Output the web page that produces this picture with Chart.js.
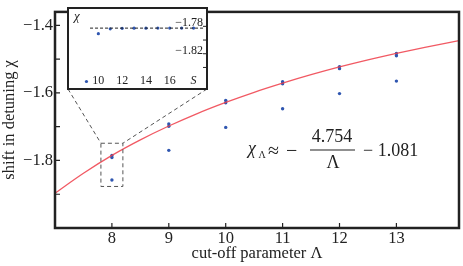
<!DOCTYPE html>
<html><head><meta charset="utf-8">
<script src="https://cdn.jsdelivr.net/npm/chart.js@4.4.0/dist/chart.umd.min.js"></script>
<style>
html,body{margin:0;padding:0;background:#fff;}
#wrap{position:relative;width:463px;height:266px;overflow:hidden;}
#main{position:absolute;left:0;top:0;}
#inset{position:absolute;left:67px;top:7px;background:#fff;}
</style></head><body>
<div id="wrap"><canvas id="main" width="463" height="266"></canvas><canvas id="inset" width="141" height="83"></canvas></div>
<script>
// ---- data ----
const cutoffs      = [8, 9, 10, 11, 12, 13];
const chiSmallS    = [-1.858, -1.770, -1.702, -1.647, -1.602, -1.565];
const chiNextS     = [-1.791, -1.699, -1.629, -1.573, -1.528, -1.490];
const chiConverged = [-1.785, -1.692, -1.622, -1.567, -1.522, -1.483];
const fitLambda = [7, 7.5, 8, 8.5, 9, 9.5, 10, 10.5, 11, 11.5, 12, 12.5, 13, 13.5, 14.1];
const fitChi    = [-1.897, -1.838, -1.785, -1.739, -1.698, -1.661, -1.628, -1.598, -1.571, -1.546, -1.523, -1.502, -1.483, -1.465, -1.445];
const xTicks = [8, 9, 10, 11, 12, 13];
const yTicks = [-1.4, -1.6, -1.8];
const yMinorTicks = [-1.5, -1.7, -1.9];
const insetS   = [9, 10, 11, 12, 13, 14, 15, 16, 17, 18];
const insetChi = [-1.8605, -1.7907, -1.7836, -1.7829, -1.7827, -1.7827, -1.7826, -1.7826, -1.7826, -1.7826];
const insetLimitS = [9.3, 18.9];
const insetLimitChi = [-1.7826, -1.7826];
const insetXTicks = [10, 12, 14, 16, 18];
const insetXLabels = ['10', '12', '14', '16', 'S'];
const insetYTicks = [-1.78, -1.82];
const insetYMinor = [-1.80, -1.84];
const formulaText = { lhs: 'χ', sub: 'Λ', approx: '≈', minus: '−', num: '4.754', den: 'Λ', tail: '− 1.081' };

const SERIF = '"Liberation Serif", "DejaVu Serif", serif';
const BLUE = '#2f56b0';
const INK = '#222';
const pts = (xs, ys) => xs.map((x, i) => ({x, y: ys[i]}));
const fmtMinus = v => (v < 0 ? '−' : '') + Math.abs(v).toFixed(1);

// zoom box around Λ = 8 (data coords) and inset placement (pixels)
const zoomBox = {x0: 7.807, x1: 8.193, y0: -1.749, y1: -1.877};
const insetBox = {left: 67, top: 7, w: 141, h: 83};

const mainDecor = {
  id: 'mainDecor',
  afterDraw(chart) {
    const {ctx, chartArea: a, scales: {x, y}} = chart;
    ctx.save();
    // frame
    ctx.strokeStyle = INK; ctx.lineWidth = 2.5;
    ctx.strokeRect(a.left, a.top, a.right - a.left, a.bottom - a.top);
    // ticks inside
    ctx.lineWidth = 1.2;
    ctx.beginPath();
    xTicks.forEach(v => { const px = x.getPixelForValue(v); ctx.moveTo(px, a.bottom); ctx.lineTo(px, a.bottom - 5); });
    yTicks.concat(yMinorTicks).forEach(v => { const py = y.getPixelForValue(v); ctx.moveTo(a.left, py); ctx.lineTo(a.left + 5, py); });
    ctx.stroke();
    // dashed zoom box + connectors
    ctx.strokeStyle = '#555'; ctx.lineWidth = 1; ctx.setLineDash([4, 3]);
    const bx0 = x.getPixelForValue(zoomBox.x0), bx1 = x.getPixelForValue(zoomBox.x1);
    const by0 = y.getPixelForValue(zoomBox.y0), by1 = y.getPixelForValue(zoomBox.y1);
    ctx.strokeRect(bx0, by0, bx1 - bx0, by1 - by0);
    ctx.beginPath();
    ctx.moveTo(insetBox.left + 1, insetBox.top + insetBox.h - 1); ctx.lineTo(bx0, by0);
    ctx.moveTo(insetBox.left + insetBox.w - 1, insetBox.top + insetBox.h - 1); ctx.lineTo(bx1, by0);
    ctx.stroke();
    ctx.setLineDash([]);
    // formula
    ctx.fillStyle = INK;
    ctx.textBaseline = 'alphabetic';
    ctx.textAlign = 'left';
    ctx.font = 'italic 18px ' + SERIF;
    ctx.fillText(formulaText.lhs, 248, 154);
    ctx.font = '10px ' + SERIF;
    ctx.fillText(formulaText.sub, 258.5, 158);
    ctx.font = '20px ' + SERIF;
    ctx.fillText(formulaText.approx, 268, 157);
    ctx.fillText(formulaText.minus, 286, 157);
    ctx.font = '18px ' + SERIF;
    ctx.textAlign = 'center';
    ctx.fillText(formulaText.num, 332, 142);
    ctx.fillText(formulaText.den, 333, 168);
    ctx.fillRect(310, 149.5, 45, 1);
    ctx.textAlign = 'left';
    ctx.fillText(formulaText.tail, 363, 156);
    ctx.restore();
  }
};

new Chart(document.getElementById('main'), {
  type: 'scatter',
  data: {
    datasets: [
      {data: pts(fitLambda, fitChi), showLine: true, borderColor: 'rgba(238,60,72,0.85)', borderWidth: 1.3,
       pointRadius: 0, cubicInterpolationMode: 'monotone', fill: false},
      {data: pts(cutoffs, chiConverged), backgroundColor: BLUE, borderWidth: 0, pointRadius: 1.7},
      {data: pts(cutoffs, chiNextS), backgroundColor: BLUE, borderWidth: 0, pointRadius: 1.7},
      {data: pts(cutoffs, chiSmallS), backgroundColor: BLUE, borderWidth: 0, pointRadius: 1.7}
    ]
  },
  options: {
    responsive: false, animation: false, devicePixelRatio: 1,
    layout: {padding: {top: 3, right: 2, left: 0, bottom: 0}},
    plugins: {legend: {display: false}, tooltip: {enabled: false}},
    scales: {
      x: {
        type: 'linear', min: 7, max: 14.1,
        afterBuildTicks: s => { s.ticks = xTicks.map(v => ({value: v})); },
        afterFit: s => { s.height = 38; },
        grid: {display: false, drawTicks: false}, border: {display: false},
        ticks: {padding: 2, color: INK, maxRotation: 0, font: {family: SERIF, size: 16.5, lineHeight: 1},
                callback: v => String(v)},
        title: {display: true, text: 'cut-off parameter Λ', color: INK, padding: {top: 0, bottom: 4},
                font: {family: SERIF, size: 16.5, lineHeight: 1}}
      },
      y: {
        type: 'linear', min: -2.0, max: -1.36,
        afterBuildTicks: s => { s.ticks = yTicks.map(v => ({value: v})); },
        afterFit: s => { s.width = 55; },
        grid: {display: false, drawTicks: false}, border: {display: false},
        ticks: {padding: 2, color: INK, font: {family: SERIF, size: 16.5}, callback: v => fmtMinus(v)},
        title: {display: true, text: 'shift in detuning χ', color: INK, padding: {top: 1.5, bottom: 0},
                font: {family: SERIF, size: 16.5, lineHeight: 1}}
      }
    }
  },
  plugins: [mainDecor]
});

const insetDecor = {
  id: 'insetDecor',
  afterDraw(chart) {
    const {ctx, scales: {x, y}} = chart;
    const W = chart.width, H = chart.height;
    ctx.save();
    ctx.strokeStyle = INK; ctx.lineWidth = 2;
    ctx.strokeRect(1, 1, W - 2, H - 2);
    ctx.lineWidth = 1;
    ctx.beginPath();
    insetYTicks.concat(insetYMinor).forEach(v => { const py = y.getPixelForValue(v); ctx.moveTo(W - 1, py); ctx.lineTo(W - 5, py); });
    ctx.stroke();
    ctx.fillStyle = INK;
    ctx.textBaseline = 'middle';
    insetXTicks.forEach((v, i) => {
      const lab = insetXLabels[i];
      ctx.font = (lab === 'S' ? 'italic ' : '') + '12px ' + SERIF;
      ctx.textAlign = 'center';
      ctx.fillText(lab, x.getPixelForValue(v), H - 9);
    });
    ctx.font = '12px ' + SERIF;
    ctx.textAlign = 'right';
    insetYTicks.forEach(v => ctx.fillText('−' + Math.abs(v).toFixed(2), W - 5, y.getPixelForValue(v) - 3));
    ctx.font = 'italic 13px ' + SERIF;
    ctx.textAlign = 'left';
    ctx.fillText('χ', 7, 10);
    ctx.restore();
  }
};

new Chart(document.getElementById('inset'), {
  type: 'scatter',
  data: {
    datasets: [
      {data: pts(insetLimitS, insetLimitChi), showLine: true, borderColor: INK, borderWidth: 1,
       borderDash: [3, 2], pointRadius: 0, fill: false},
      {data: pts(insetS, insetChi), backgroundColor: BLUE, borderWidth: 0, pointRadius: 1.6}
    ]
  },
  options: {
    responsive: false, animation: false, devicePixelRatio: 1,
    layout: {padding: 0},
    plugins: {legend: {display: false}, tooltip: {enabled: false}},
    scales: {
      x: {type: 'linear', min: 7.70, max: 18.88, display: false},
      y: {type: 'linear', min: -1.8671, max: -1.7576, display: false}
    }
  },
  plugins: [insetDecor]
});
</script>
</body></html>
